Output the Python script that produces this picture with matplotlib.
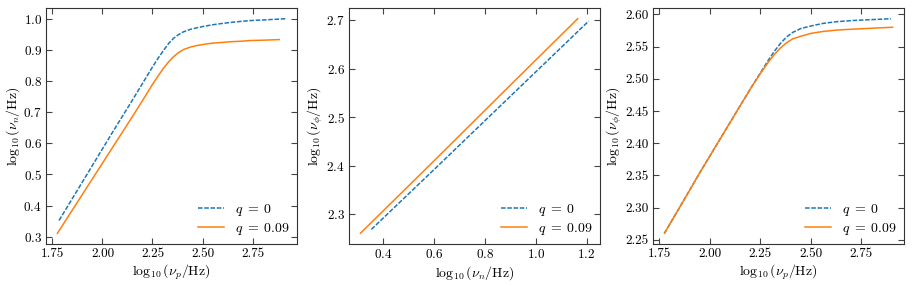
import matplotlib
matplotlib.use('Agg')
import matplotlib.pyplot as plt

plt.rcParams['font.family'] = 'serif'
plt.rcParams['font.serif'] = ['cmr10', 'DejaVu Serif']
plt.rcParams['mathtext.fontset'] = 'cm'
plt.rcParams['axes.formatter.use_mathtext'] = True

# panel 1: log nu_p vs log nu_n
p1_x_q0 = [1.783, 1.85, 1.90, 1.95, 2.00, 2.05, 2.10, 2.15, 2.20, 2.25, 2.28, 2.305, 2.33, 2.355,
           2.38, 2.405, 2.44, 2.472, 2.51, 2.555, 2.60, 2.638, 2.70, 2.738, 2.80, 2.86, 2.915]
p1_y_q0 = [0.352, 0.423, 0.476, 0.529, 0.582, 0.635, 0.687, 0.739, 0.792, 0.845, 0.875, 0.898, 0.920, 0.937,
           0.949, 0.958, 0.966, 0.971, 0.976, 0.981, 0.985, 0.988, 0.992, 0.994, 0.996, 0.998, 1.000]
p1_x_q9 = [1.775, 1.85, 1.90, 1.95, 2.00, 2.05, 2.10, 2.15, 2.20, 2.25, 2.28, 2.305, 2.33, 2.355,
           2.38, 2.405, 2.44, 2.472, 2.51, 2.555, 2.60, 2.638, 2.70, 2.738, 2.80, 2.883]
p1_y_q9 = [0.311, 0.386, 0.436, 0.486, 0.536, 0.586, 0.636, 0.686, 0.737, 0.789, 0.818, 0.841, 0.861, 0.878,
           0.891, 0.901, 0.909, 0.914, 0.918, 0.922, 0.924, 0.926, 0.928, 0.930, 0.931, 0.933]

# panel 2: log nu_n vs log nu_phi
p2_x_q0 = [0.354, 0.60, 0.90, 1.208]
p2_y_q0 = [2.269, 2.392, 2.543, 2.698]
p2_x_q9 = [0.311, 0.60, 0.90, 1.165]
p2_y_q9 = [2.261, 2.410, 2.566, 2.703]

# panel 3: log nu_p vs log nu_phi
p3_x_q0 = [1.775, 1.85, 1.90, 1.95, 2.00, 2.05, 2.10, 2.15, 2.20, 2.25, 2.29, 2.32, 2.35,
           2.38, 2.41, 2.45, 2.50, 2.56, 2.625, 2.70, 2.75, 2.82, 2.897]
p3_y_q0 = [2.260, 2.300, 2.327, 2.354, 2.380, 2.406, 2.432, 2.458, 2.484, 2.509, 2.529, 2.543, 2.555,
           2.565, 2.572, 2.578, 2.582, 2.586, 2.5886, 2.5904, 2.5912, 2.5922, 2.5933]
p3_x_q9 = [1.775, 1.85, 1.90, 1.95, 2.00, 2.05, 2.10, 2.15, 2.20, 2.25, 2.29, 2.32, 2.35,
           2.38, 2.41, 2.45, 2.50, 2.56, 2.625, 2.70, 2.75, 2.82, 2.905]
p3_y_q9 = [2.260, 2.300, 2.327, 2.354, 2.380, 2.406, 2.432, 2.458, 2.484, 2.508, 2.526, 2.538, 2.548,
           2.556, 2.562, 2.566, 2.5705, 2.5735, 2.5756, 2.5770, 2.5777, 2.5788, 2.580]

labels = [r'$q\;=\;0$', r'$q\;=\;0.09$']
xlabels = [r'$\log_{10}(\nu_p/\mathrm{Hz})$', r'$\log_{10}(\nu_n/\mathrm{Hz})$', r'$\log_{10}(\nu_p/\mathrm{Hz})$']
ylabels = [r'$\log_{10}(\nu_n/\mathrm{Hz})$', r'$\log_{10}(\nu_\phi/\mathrm{Hz})$', r'$\log_{10}(\nu_\phi/\mathrm{Hz})$']

panels = [
    (p1_x_q0, p1_y_q0, p1_x_q9, p1_y_q9),
    (p2_x_q0, p2_y_q0, p2_x_q9, p2_y_q9),
    (p3_x_q0, p3_y_q0, p3_x_q9, p3_y_q9),
]

W, H = 913, 286
fig = plt.figure(figsize=(W / 100, H / 100), dpi=100)
lefts = [46, 349, 653]
for i, (xa, ya, xb, yb) in enumerate(panels):
    ax = fig.add_axes([lefts[i] / W, 42 / H, 251 / W, 236 / H])
    ax.plot(xa, ya, '--', color='#1f77b4', lw=1.1, dashes=(3.0, 1.1), label=labels[0])
    ax.plot(xb, yb, '-', color='#ff7f0e', lw=1.1, label=labels[1])
    ax.set_xlabel(xlabels[i], fontsize=10, labelpad=2)
    ax.set_ylabel(ylabels[i], fontsize=10, labelpad=1)
    ax.tick_params(direction='in', top=True, right=True, length=4.5, width=0.8,
                   color='#444444', labelsize=9.5, pad=3)
    for s in ax.spines.values():
        s.set_color('#333333')
        s.set_linewidth(0.8)
    ax.legend(loc='lower right', frameon=False, fontsize=10, labelspacing=0.25,
              borderaxespad=0.3, borderpad=0.2, handlelength=1.9)
    if i != 1:
        ax.set_xticks([1.75, 2.00, 2.25, 2.50, 2.75])
        ax.set_xticklabels(['1.75', '2.00', '2.25', '2.50', '2.75'])
    if i == 2:
        ax.set_yticks([2.25, 2.30, 2.35, 2.40, 2.45, 2.50, 2.55, 2.60])
        ax.set_yticklabels(['2.25', '2.30', '2.35', '2.40', '2.45', '2.50', '2.55', '2.60'])

fig.savefig('out.png', dpi=100)
